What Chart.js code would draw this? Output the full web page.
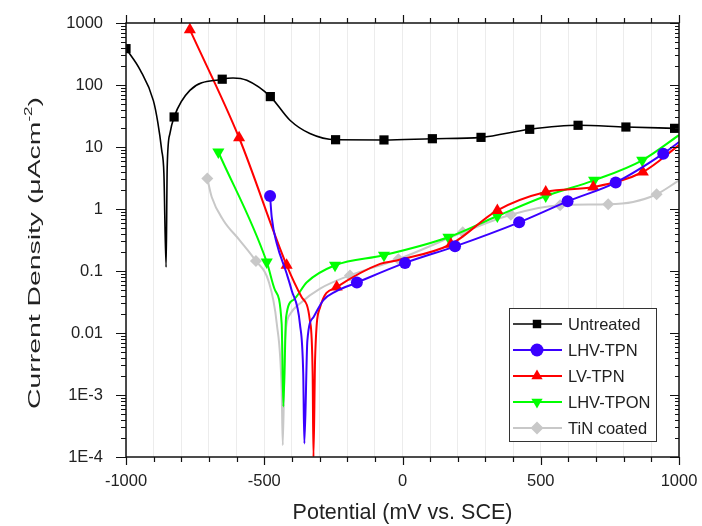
<!DOCTYPE html>
<html>
<head>
<meta charset="utf-8">
<script src="https://cdn.jsdelivr.net/npm/chart.js@4.4.1/dist/chart.umd.min.js"></script>
<style>
  html, body { margin: 0; padding: 0; background: #fff; }
  #wrap { width: 702px; height: 526px; }
</style>
</head>
<body>
<div id="wrap"><canvas id="graph1" width="702" height="526"></canvas></div>
<script>
// Tafel curves, potential (mV vs SCE) and current density (uA/cm2)

const untreatedV = [-1000, -949, -901, -885, -871, -863, -855, -851, -841, -826, -769, -652, -613, -563, -478, -407, -335, -242, -67, 108, 284, 460, 635, 808, 984];
const untreatedI = [386, 175, 56, 25, 9, 3.8, 0.115, 4.7, 16.6, 30.5, 82, 124, 130, 119, 65, 27, 16.5, 13.1, 13.0, 13.6, 14.3, 19.3, 22.4, 21, 20];
const untreatedMarks = [0, 9, 11, 14, 17, 18, 19, 20, 21, 22, 23, 24];

const lhvTpnV = [-479, -473, -455, -419, -401, -371, -359, -355, -344, -322, -286, -244, -165, 9, 190, 422, 597, 771, 943, 1000];
const lhvTpnI = [1.62, 0.74, 0.28, 0.091, 0.049, 0.014, 0.0022, 0.000165, 0.0076, 0.018, 0.034, 0.046, 0.065, 0.135, 0.25, 0.61, 1.33, 2.67, 7.8, 12];
const lhvTpnMarks = [0, 12, 13, 14, 15, 16, 17, 18];

const lvTpnV = [-769, -591, -419, -365, -335, -325, -322, -316, -298, -238, -81, -21, 175, 343, 518, 690, 869, 1000];
const lvTpnI = [780, 14.1, 0.124, 0.038, 0.016, 0.0022, 0.0001, 0.004, 0.026, 0.055, 0.13, 0.148, 0.27, 0.95, 1.88, 2.26, 3.95, 10.7];
const lvTpnMarks = [0, 1, 2, 9, 12, 13, 14, 15, 16];

const lhvTponV = [-666, -491, -461, -437, -431, -421, -395, -346, -244, -67, 166, 343, 518, 693, 867, 1000];
const lhvTponI = [8.3, 0.14, 0.049, 0.014, 0.00065, 0.018, 0.034, 0.066, 0.124, 0.18, 0.35, 0.77, 1.62, 2.9, 6.1, 15.5];
const lhvTponMarks = [0, 1, 8, 9, 10, 11, 12, 13, 14];

const tinV = [-706, -690, -648, -588, -530, -485, -455, -437, -433, -425, -407, -371, -298, -190, -15, 218, 392, 570, 744, 834, 919, 1000];
const tinI = [3.1, 1.56, 0.66, 0.31, 0.145, 0.07, 0.0145, 0.0012, 0.000155, 0.0076, 0.02, 0.03, 0.052, 0.085, 0.155, 0.42, 0.81, 1.15, 1.19, 1.3, 1.73, 2.9];
const tinMarks = [0, 4, 13, 14, 15, 16, 17, 18, 20];

const seriesNames = ['Untreated', 'LHV-TPN', 'LV-TPN', 'LHV-TPON', 'TiN coated'];
const yTickValues = [1000, 100, 10, 1, 0.1, 0.01, 0.001, 0.0001];
const yTickLabels = ['1000', '100', '10', '1', '0.1', '0.01', '1E-3', '1E-4'];
const xTickLabels = [-1000, -500, 0, 500, 1000];

const FONT = "'Liberation Sans', Arial, sans-serif";

function makeSet(label, xs, ys, marks, color, style, radius, width) {
    return {
        label: label,
        data: xs.map((x, i) => ({x: x, y: ys[i]})),
        borderColor: color,
        backgroundColor: color,
        borderWidth: width,
        pointStyle: style,
        pointRadius: ctx => marks.includes(ctx.dataIndex) ? radius : 0,
        pointBorderWidth: 0,
        pointHoverRadius: 0,
        cubicInterpolationMode: 'monotone',
        showLine: true,
        fill: false,
    };
}

const datasets = [
    makeSet(seriesNames[0], untreatedV, untreatedI, untreatedMarks, '#000000', 'rect', 6.5, 1.6),
    makeSet(seriesNames[1], lhvTpnV, lhvTpnI, lhvTpnMarks, '#3a00ff', 'circle', 6, 2),
    makeSet(seriesNames[2], lvTpnV, lvTpnI, lvTpnMarks, '#ff0000', 'triangle', 7, 2),
    makeSet(seriesNames[3], lhvTponV, lhvTponI, lhvTponMarks, '#00ff00', 'triangle', 7, 2),
    makeSet(seriesNames[4], tinV, tinI, tinMarks, '#c8c8c8', 'rectRot', 6, 2),
];
// down-pointing triangle for LHV-TPON
datasets[3].pointRotation = 180;

// box, ticks on four sides, y title and legend
const framePlugin = {
    id: 'frame',
    afterDraw(chart) {
        const ctx = chart.ctx;
        const a = chart.chartArea;
        const xs = chart.scales.x, ys = chart.scales.y;
        ctx.save();
        ctx.strokeStyle = '#111';
        ctx.lineWidth = 1.5;
        ctx.strokeRect(a.left, a.top, a.right - a.left, a.bottom - a.top);
        ctx.lineWidth = 1.2;
        ctx.beginPath();
        for (let v = -1000; v <= 1000; v += 100) {
            const px = Math.round(xs.getPixelForValue(v)) + 0.5;
            const len = (v % 500 === 0) ? 8 : 5;
            ctx.moveTo(px, a.bottom); ctx.lineTo(px, a.bottom + len);
            ctx.moveTo(px, a.top); ctx.lineTo(px, a.top - len);
        }
        for (let e = -4; e <= 3; e++) {
            for (let m = 1; m <= 9; m++) {
                if (e === 3 && m > 1) break;
                const py = Math.round(ys.getPixelForValue(m * Math.pow(10, e))) + 0.5;
                const len = m === 1 ? 10 : 5;
                ctx.moveTo(a.left, py); ctx.lineTo(a.left - len, py);
                ctx.moveTo(a.right, py); ctx.lineTo(a.right - len + 1, py);
            }
        }
        ctx.stroke();

        // y axis title with superscript
        const main = 'Current Density (\u03bcAcm', sup = '-2', tail = ')';
        ctx.fillStyle = '#222';
        ctx.textBaseline = 'alphabetic';
        ctx.textAlign = 'left';
        ctx.font = '20px ' + FONT;
        const wMain = ctx.measureText(main).width;
        const wTail = ctx.measureText(tail).width;
        ctx.font = '12px ' + FONT;
        const wSup = ctx.measureText(sup).width;
        const total = wMain + wSup + wTail;
        const stretch = 312 / total;
        ctx.save();
        ctx.translate(40, 253);
        ctx.rotate(-Math.PI / 2);
        ctx.scale(stretch, 0.85);
        ctx.font = '20px ' + FONT;
        ctx.fillText(main, -total / 2, 0);
        ctx.font = '12px ' + FONT;
        ctx.fillText(sup, -total / 2 + wMain, -9);
        ctx.font = '20px ' + FONT;
        ctx.fillText(tail, -total / 2 + wMain + wSup, 0);
        ctx.restore();

        // legend
        const lx = 509, ly = 308, lw = 147, lh = 133;
        ctx.fillStyle = '#fff';
        ctx.fillRect(lx, ly, lw, lh);
        ctx.strokeStyle = '#333';
        ctx.lineWidth = 1;
        ctx.strokeRect(lx + 0.5, ly + 0.5, lw, lh);
        chart.data.datasets.forEach((ds, i) => {
            const cy = 324 + i * 26;
            ctx.strokeStyle = ds.borderColor;
            ctx.lineWidth = ds.borderWidth;
            ctx.beginPath();
            ctx.moveTo(513, cy); ctx.lineTo(562, cy);
            ctx.stroke();
            ctx.fillStyle = ds.backgroundColor;
            const r = ds.pointStyle === 'rect' ? 6 : 6.5;
            Chart.helpers.drawPoint(ctx, {pointStyle: ds.pointStyle, radius: r, rotation: ds.pointRotation || 0, borderWidth: 0}, 537, cy);
            ctx.fillStyle = '#222';
            ctx.font = '16.5px ' + FONT;
            ctx.textBaseline = 'middle';
            ctx.textAlign = 'left';
            ctx.fillText(ds.label, 568, cy + 1);
        });
        ctx.restore();
    }
};

const config = {
    type: 'line',
    data: { datasets: datasets },
    plugins: [framePlugin],
    options: {
        responsive: false,
        animation: false,
        layout: { padding: { top: 23, right: 23, left: 0, bottom: 0 } },
        plugins: {
            legend: { display: false },
            tooltip: { enabled: false },
        },
        scales: {
            x: {
                type: 'linear',
                min: -1000,
                max: 1000,
                afterFit: s => { s.height = 69; s.paddingLeft = 0; s.paddingRight = 0; },
                afterBuildTicks: s => {
                    const t = [];
                    for (let v = -1000; v <= 1000; v += 100) t.push({value: v});
                    s.ticks = t;
                },
                border: { display: false },
                grid: { color: '#ececec', lineWidth: 1, drawTicks: false },
                ticks: {
                    autoSkip: false,
                    maxRotation: 0,
                    padding: 15,
                    color: '#222',
                    font: { family: FONT, size: 16.5 },
                    callback: v => xTickLabels.includes(v) ? String(v) : '',
                },
                title: {
                    display: true,
                    text: 'Potential (mV vs. SCE)',
                    color: '#222',
                    font: { family: FONT, size: 21.5 },
                    padding: { top: 4, bottom: 0 },
                },
            },
            y: {
                type: 'logarithmic',
                min: 0.0001,
                max: 1000,
                afterFit: s => { s.width = 126; s.paddingTop = 0; s.paddingBottom = 0; },
                afterBuildTicks: s => { s.ticks = yTickValues.map(v => ({value: v})); },
                border: { display: false },
                grid: { display: false },
                ticks: {
                    padding: 15,
                    color: '#222',
                    font: { family: FONT, size: 16.5 },
                    callback: v => yTickLabels[yTickValues.indexOf(v)] ?? '',
                },
                title: { display: false },
            },
        },
    },
};

const chart = new Chart(document.getElementById('graph1'), config);
</script>
</body>
</html>
